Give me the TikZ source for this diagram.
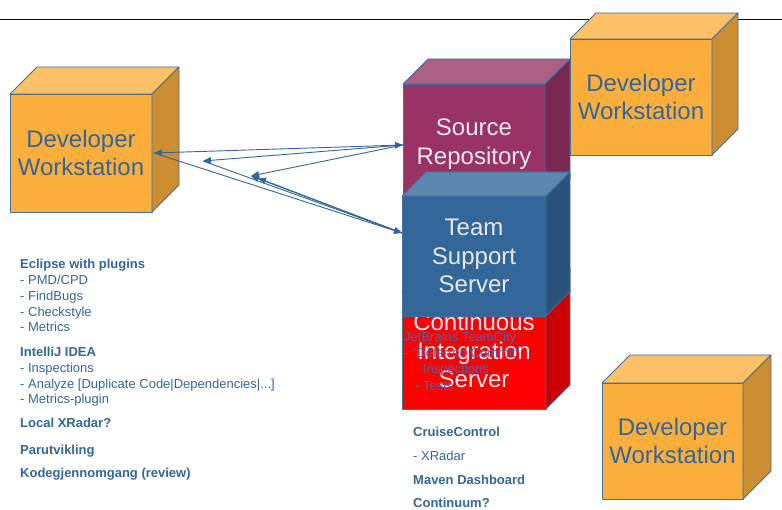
\documentclass[tikz,border=0pt]{standalone}
\usepackage{fontspec}
\setmainfont{Liberation Sans}
\usetikzlibrary{arrows.meta}
\definecolor{dvfront}{RGB}{252,174,60}
\definecolor{dvtop}{RGB}{253,192,102}
\definecolor{dvright}{RGB}{205,142,50}
\definecolor{srfront}{RGB}{153,51,102}
\definecolor{srtop}{RGB}{172,94,131}
\definecolor{srright}{RGB}{122,40,82}
\definecolor{tsfront}{RGB}{51,102,153}
\definecolor{tstop}{RGB}{91,135,176}
\definecolor{tsright}{RGB}{41,82,122}
\definecolor{cifront}{RGB}{255,0,0}
\definecolor{citop}{RGB}{255,77,77}
\definecolor{ciright}{RGB}{204,0,0}
\definecolor{edgecol}{RGB}{65,113,156}
\definecolor{txtblue}{RGB}{51,102,153}
\definecolor{lighttxt}{RGB}{232,232,240}
\definecolor{navyline}{RGB}{0,0,110}
\definecolor{tcblue}{RGB}{88,96,165}
\tikzset{
  cubeedge/.style={draw=edgecol, line width=0.8pt, line join=round},
  cubelabel/.style={inner sep=0pt, align=center, font=\fontsize{24}{28.5}\selectfont},
  listtxt/.style={anchor=base west, inner sep=0pt, text=txtblue, font=\fontsize{13}{15}\selectfont},
  listhead/.style={listtxt, font=\fontsize{13}{15}\selectfont\bfseries},
  tctxt/.style={anchor=base west, inner sep=0pt, text=tcblue, font=\fontsize{13}{15}\selectfont},
  conn/.style={draw=txtblue, line width=0.9pt, >={Triangle[length=8pt,width=6.5pt]}},
}
\newcommand\drawcube[9]{%
  \filldraw[cubeedge, fill=#7front] (#2,#3) rectangle (#4,#5);
  \filldraw[cubeedge, fill=#7top] (#2,#3) -- ({#2+#6},{#3-#6}) -- ({#4+#6},{#3-#6}) -- (#4,#3) -- cycle;
  \filldraw[cubeedge, fill=#7right] (#4,#3) -- ({#4+#6},{#3-#6}) -- ({#4+#6},{#5-#6}) -- (#4,#5) -- cycle;
  \node[cubelabel, text=#9] (#1) at ({(#2+#4)/2},{(#3+#5)/2}) {#8};
}
\begin{document}
\begin{tikzpicture}[x=1pt,y=-1pt]
\fill[white] (0,0) rectangle (782,510);
\useasboundingbox (0,0) rectangle (782,510);
% top rule
\draw[navyline, line width=0.9pt] (0,19) -- (782,19);
% cubes
\drawcube{dwleft}{10}{94}{152}{212}{27}{dv}{Developer\\Workstation}{txtblue}
\drawcube{srepo}{403}{84}{545}{204}{25}{sr}{Source\\Repository}{lighttxt}
\drawcube{ciserver}{402}{292}{546}{409}{24}{ci}{Continuous\\Integration\\Server}{lighttxt}
\drawcube{tsserver}{402}{196}{546}{316}{24}{ts}{Team\\Support\\Server}{lighttxt}
\drawcube{dwtop}{570}{39}{712}{155}{26}{dv}{Developer\\Workstation}{txtblue}
\drawcube{dwbottom}{602}{383}{743}{499}{28}{dv}{Developer\\Workstation}{txtblue}
% TeamCity overlay text
\node[tctxt] (tc1) at (404,341.7) {JetBrains TeamCity};
\node[tctxt] (tc2) at (404,357.7) {- "Deferred Commit"};
\node[tctxt] (tc3) at (415,373.7) {- Inspections};
\node[tctxt] (tc4) at (415,390.7) {- Tests};
% connector end points
\coordinate (dwtip) at (154,153);
\coordinate (srtip) at (403,145);
\coordinate (tstip) at (402,233);
\coordinate (pa) at (203,161);
\coordinate (pb) at (251,176);
\coordinate (pc) at (258,178);
\draw[conn,<->] (dwtip) -- (srtip);
\draw[conn,<-] (pa) -- (srtip);
\draw[conn,<-] (pb) -- (srtip);
\draw[conn,->] (dwtip) -- (tstip);
\draw[conn,->] (pa) -- (tstip);
\draw[conn,<-] (pb) -- (tstip);
\draw[conn,<-] (pc) -- (tstip);
% left list
\node[listhead] (l1) at (20,268.7) {Eclipse with plugins};
\node[listtxt] (l2) at (20,284.7) {- PMD/CPD};
\node[listtxt] (l3) at (20,300.4) {- FindBugs};
\node[listtxt] (l4) at (20,316.4) {- Checkstyle};
\node[listtxt] (l5) at (20,332) {- Metrics};
\node[listhead] (l6) at (20,356.4) {IntelliJ IDEA};
\node[listtxt] (l7) at (20,372.4) {- Inspections};
\node[listtxt] (l8) at (20,388.7) {- Analyze [Duplicate Code|Dependencies|...]};
\node[listtxt] (l9) at (20,403.7) {- Metrics-plugin};
\node[listhead] (l10) at (20,428) {Local XRadar?};
\node[listhead] (l11) at (20,454) {Parutvikling};
\node[listhead] (l12) at (20,478) {Kodegjennomgang (review)};
% CI list
\node[listhead] (c1) at (413,436.7) {CruiseControl};
\node[listtxt] (c2) at (413,460.7) {- XRadar};
\node[listhead] (c3) at (413,484.7) {Maven Dashboard};
\node[listhead] (c4) at (413,507.7) {Continuum?};
\end{tikzpicture}
\end{document}
